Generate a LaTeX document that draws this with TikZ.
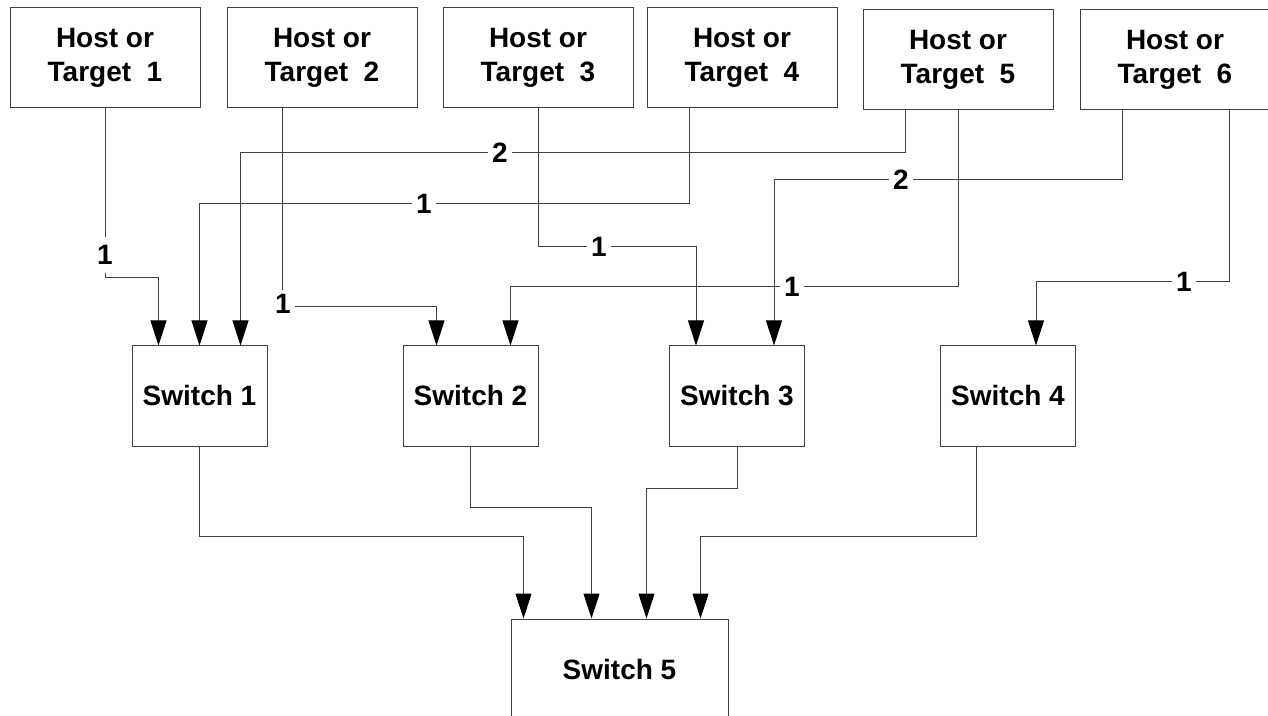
\documentclass[tikz,border=0pt]{standalone}
\usepackage{fontspec}
\setmainfont{Liberation Sans}
\usetikzlibrary{arrows.meta,calc}
\begin{document}
\begin{tikzpicture}[x=0.5pt,y=-0.5pt,
  txt/.style={font=\bfseries\fontsize{14}{17}\selectfont},
  box/.style={txt, draw=black!75, line width=0.5pt, inner sep=0pt, align=center},
  host/.style={box, minimum width=95pt, minimum height=50pt},
  sw/.style={box, minimum width=67.5pt, minimum height=50pt, text height=10pt, text depth=0pt},
  conn/.style={draw=black!75, line width=0.5pt, -{Triangle[length=12.5pt,width=8pt,color=black]}},
  lbl/.style={txt, fill=white, inner sep=2pt, text height=10pt, text depth=0pt}]
\useasboundingbox (0,0) rectangle (1268,716);
\clip (0,0) rectangle (1268,716);
% hosts
\node[host] (h1) at (105,58) {Host or\\Target\ \ 1};
\node[host] (h2) at (322,58) {Host or\\Target\ \ 2};
\node[host] (h3) at (538,58) {Host or\\Target\ \ 3};
\node[host] (h4) at (742,58) {Host or\\Target\ \ 4};
\node[host] (h5) at (958,60) {Host or\\Target\ \ 5};
\node[host] (h6) at (1175,60) {Host or\\Target\ \ 6};
% switches
\node[sw] (s1) at (199.5,396) {Switch 1};
\node[sw] (s2) at (470.5,396) {Switch 2};
\node[sw] (s3) at (737,396) {Switch 3};
\node[sw] (s4) at (1008,396) {Switch 4};
\node[sw, minimum width=108.5pt] (s5) at (619.5,669) {Switch 5};
% host connectors
\draw[conn] (h1.south) -- (105,278) -| ($(s1.north west)+(27,0)$);
\draw[conn] ($(h2.south)+(-40,0)$) -- (282,307) -| ($(s2.north west)+(34,0)$);
\draw[conn] (h3.south) -- (538,247) -| ($(s3.north west)+(27,0)$);
\draw[conn] ($(h4.south)+(-53,0)$) -- (689,204) -| (s1.north);
\draw[conn] ($(h5.south)+(-53,0)$) -- (905,153) -| ($(s1.north east)+(-27,0)$);
\draw[conn] (h5.south) -- (958,287) -| ($(s2.north east)+(-28,0)$);
\draw[conn] ($(h6.south)+(-53,0)$) -- (1122,180) -| ($(s3.north east)+(-31,0)$);
\draw[conn] ($(h6.south)+(54,0)$) -- (1229,282) -| ($(s4.north west)+(96,0)$);
% switch connectors
\draw[conn] (s1.south) -- (199.5,536) -| ($(s5.north west)+(13,0)$);
\draw[conn] (s2.south) -- (470.5,507) -| ($(s5.north west)+(81,0)$);
\draw[conn] (s3.south) -- (737,488) -| ($(s5.north west)+(136,0)$);
\draw[conn] ($(s4.south)+(-32,0)$) -- (976,536) -| ($(s5.north west)+(190,0)$);
% labels
\node[lbl, inner ysep=4pt] (l1) at (105,255) {1};
\node[lbl] (l2) at (283,304) {1};
\node[lbl] (l3) at (599,247) {1};
\node[lbl] (l4) at (424,204) {1};
\node[lbl] (l5) at (500,153) {2};
\node[lbl] (l6) at (792,287) {1};
\node[lbl] (l7) at (901,180) {2};
\node[lbl] (l8) at (1184,282) {1};
\end{tikzpicture}
\end{document}
